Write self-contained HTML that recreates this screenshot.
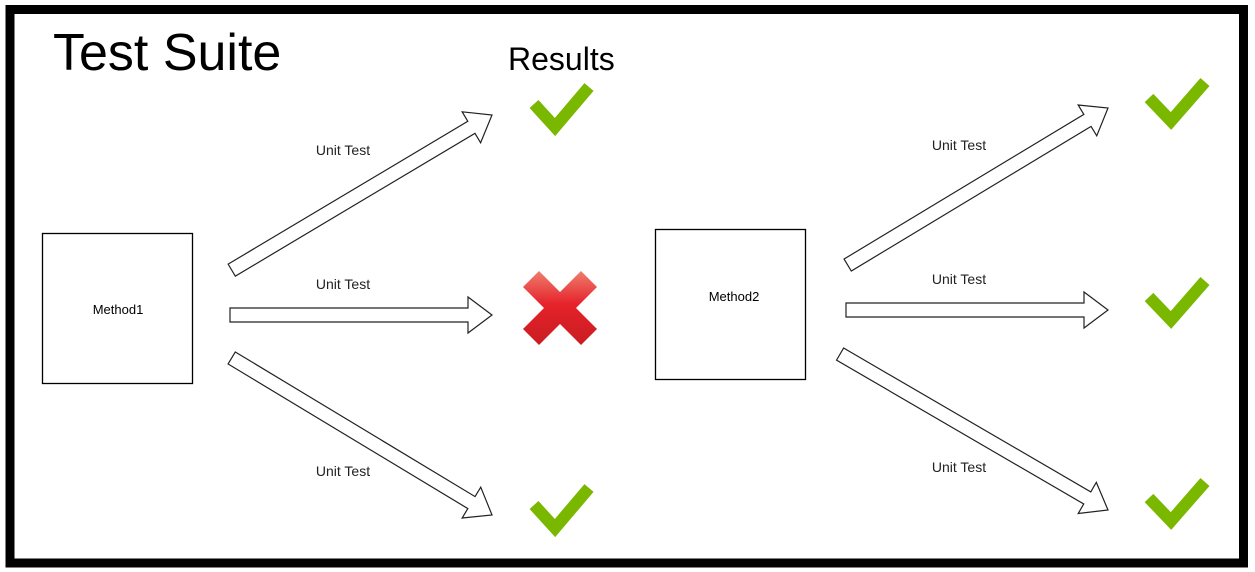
<!DOCTYPE html>
<html><head><meta charset="utf-8"><style>
html,body{margin:0;padding:0;background:#fff;}
svg{display:block;}
</style></head><body>
<svg width="1255" height="572" xmlns="http://www.w3.org/2000/svg" font-family="Liberation Sans, Arial, sans-serif">
<defs>
<linearGradient id="rg" gradientUnits="userSpaceOnUse" x1="0" y1="-38" x2="0" y2="38">
<stop offset="0" stop-color="#f08070"/><stop offset="0.45" stop-color="#e5222a"/><stop offset="1" stop-color="#c81c22"/>
</linearGradient>
</defs>
<rect x="0" y="0" width="1255" height="572" fill="#fff"/>
<rect x="10" y="9.5" width="1233.5" height="553.5" fill="#fff" stroke="#000" stroke-width="9"/>
<text x="53" y="70" font-size="52">Test Suite</text>
<text x="508" y="70" font-size="32">Results</text>
<rect x="42.5" y="233.5" width="150" height="150" fill="#fff" stroke="#000" stroke-width="1.3"/>
<text x="118" y="314" font-size="13" text-anchor="middle">Method1</text>
<rect x="655.5" y="229.5" width="150" height="150" fill="#fff" stroke="#000" stroke-width="1.3"/>
<text x="734" y="301" font-size="13" text-anchor="middle">Method2</text>
<g fill="#fff" stroke="#222" stroke-width="1.2">
<polygon points="-303,-7 -24,-7 -24,-18 0,0 -24,18 -24,7 -303,7" transform="translate(492,115) rotate(-30.8)"/>
<polygon points="-262,-7 -24,-7 -24,-18 0,0 -24,18 -24,7 -262,7" transform="translate(492,315)"/>
<polygon points="-304,-7 -24,-7 -24,-18 0,0 -24,18 -24,7 -304,7" transform="translate(492,515) rotate(31.1)"/>
<polygon points="-304,-7 -24,-7 -24,-18 0,0 -24,18 -24,7 -304,7" transform="translate(1108,108) rotate(-31.1)"/>
<polygon points="-262,-7 -24,-7 -24,-18 0,0 -24,18 -24,7 -262,7" transform="translate(1108,310)"/>
<polygon points="-310,-7 -24,-7 -24,-18 0,0 -24,18 -24,7 -310,7" transform="translate(1108,510) rotate(30.2)"/>
</g>
<g font-size="14" fill="#222" text-anchor="middle">
<text x="343" y="155">Unit Test</text>
<text x="343" y="289">Unit Test</text>
<text x="343" y="476">Unit Test</text>
<text x="959" y="150">Unit Test</text>
<text x="959" y="284">Unit Test</text>
<text x="959" y="472">Unit Test</text>
</g>
<g fill="none" stroke="#7ab800" stroke-width="12" stroke-linecap="butt" stroke-linejoin="miter">
<polyline points="534,104 555,127 589,87"/>
<polyline points="534,505 555,528 589,488"/>
<polyline points="1149,98 1171,121 1205,82"/>
<polyline points="1149,297 1171,320 1205,281"/>
<polyline points="1149,498 1171,521 1205,482"/>
</g>
<g transform="translate(560,308)">
<polygon fill="url(#rg)" points="-37,-21 -21,-37 0,-16 21,-37 37,-21 16,0 37,21 21,37 0,16 -21,37 -37,21 -16,0"/>
</g>
</svg>
</body></html>
